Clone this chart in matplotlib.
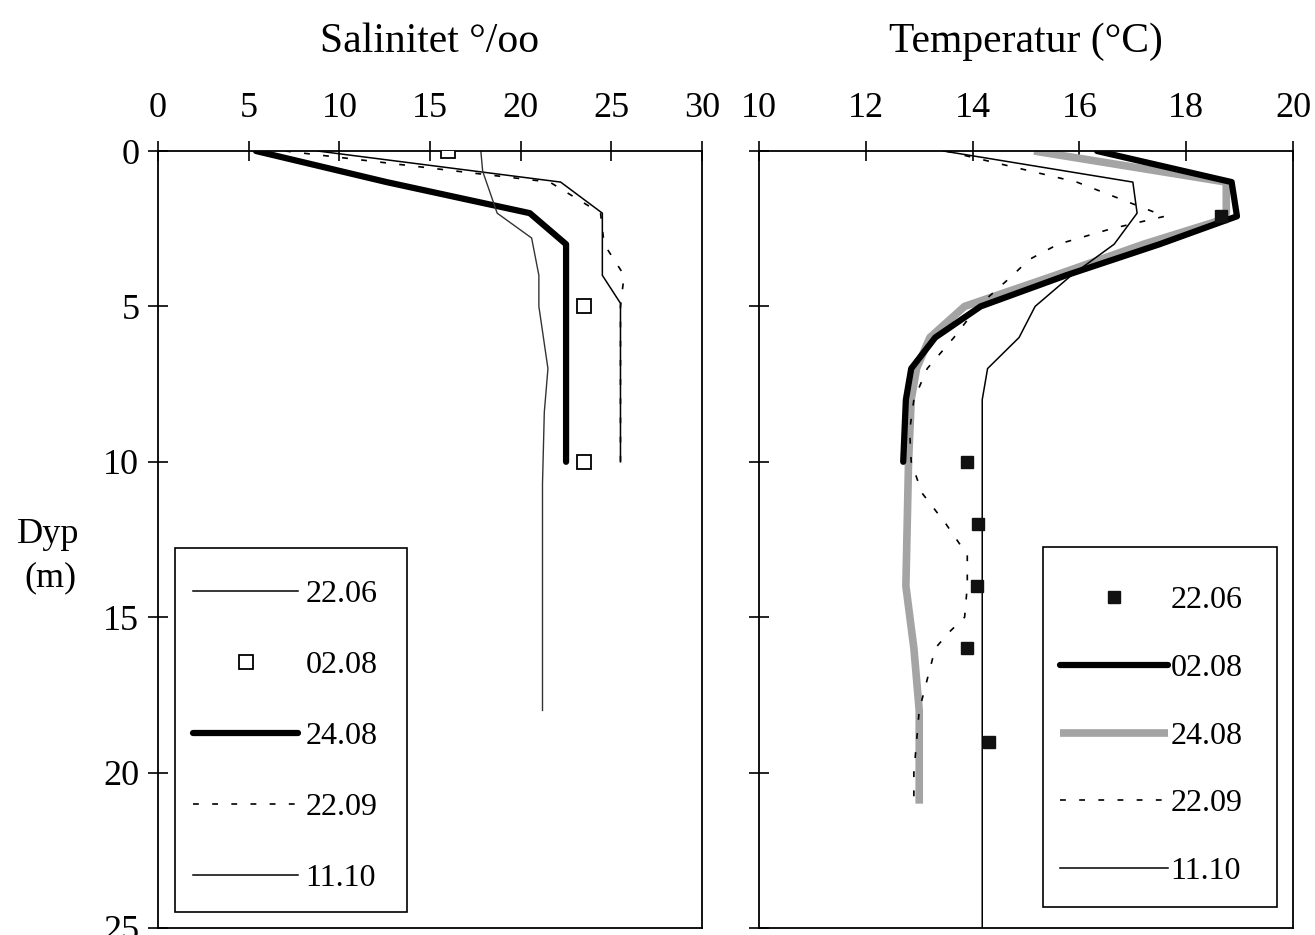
import matplotlib
matplotlib.use("Agg")
import matplotlib.pyplot as plt
from matplotlib.lines import Line2D
from matplotlib.patches import Rectangle

plt.rcParams['font.family'] = ['Liberation Serif', 'DejaVu Serif']

# ---------------- Salinity data (depth m, salinity o/oo) ----------------
sal_2206_d = [0, 1, 2, 4, 4.9, 10]
sal_2206_v = [8.8, 22.2, 24.5, 24.5, 25.5, 25.5]

sal_0208_d = [0, 5, 10]
sal_0208_v = [16.0, 23.5, 23.5]

sal_2408_d = [0, 1, 2, 3, 10]
sal_2408_v = [5.4, 12.6, 20.5, 22.5, 22.5]

sal_2209_d = [0, 1, 2, 3, 4, 5, 10]
sal_2209_v = [7.0, 21.6, 24.4, 24.6, 25.7, 25.5, 25.5]

sal_1110_d = [0, 0.65, 2, 2.8, 4, 5, 7, 8.4, 10.7, 18]
sal_1110_v = [17.8, 17.9, 18.7, 20.6, 21.0, 21.0, 21.5, 21.3, 21.2, 21.2]

# ---------------- Temperature data (depth m, deg C) ----------------
tmp_2206_d = [2.1, 10, 12, 14, 16, 19]
tmp_2206_v = [18.65, 13.9, 14.1, 14.08, 13.9, 14.3]

tmp_0208_d = [0, 1, 2.1, 3, 4, 5, 6, 7, 8, 10]
tmp_0208_v = [16.33, 18.85, 18.95, 17.5, 15.75, 14.15, 13.3, 12.85, 12.75, 12.7]

tmp_2408_d = [0, 1, 2, 2.25, 3, 4, 5, 6, 7, 8, 10, 14, 16, 18, 21]
tmp_2408_v = [15.15, 18.75, 18.75, 18.6, 17.2, 15.55, 13.85, 13.2, 12.95, 12.85, 12.8, 12.75, 12.9, 13.0, 13.0]

tmp_2209_d = [0, 1, 2.1, 2.5, 3, 3.5, 4, 5, 6, 7, 8, 9, 10, 11, 12, 13, 14, 15, 15.5, 16, 17, 18, 19, 20, 21]
tmp_2209_v = [13.5, 15.95, 17.6, 16.6, 15.6, 15.05, 14.75, 14.1, 13.65, 13.15, 12.9, 12.82, 12.85, 13.05, 13.5,
              13.9, 13.9, 13.85, 13.55, 13.3, 13.15, 13.0, 12.95, 12.9, 12.9]

tmp_1110_d = [0, 1, 2, 3, 4, 5, 6, 7, 8, 25]
tmp_1110_v = [13.45, 17.0, 17.08, 16.65, 15.85, 15.17, 14.87, 14.28, 14.18, 14.18]

labels = ["22.06", "02.08", "24.08", "22.09", "11.10"]
sal_xticks = [0, 5, 10, 15, 20, 25, 30]
tmp_xticks = [10, 12, 14, 16, 18, 20]
depth_ticks = [0, 5, 10, 15, 20, 25]

# ---------------- Figure ----------------
W, H = 1315, 935
fig = plt.figure(figsize=(W / 100, H / 100), dpi=100)
axL = fig.add_axes([0.1202, 0.0075, 0.4137, 0.8310])
axR = fig.add_axes([0.5772, 0.0075, 0.4061, 0.8310])

thin = dict(color='black', lw=1.1)
thick = dict(color='black', lw=4.5, solid_capstyle='round')
dash = dict(color='black', lw=1.2, linestyle=(0, (3.5, 8)))
gray = dict(color='#a4a4a4', lw=5.5, solid_capstyle='butt')

# Salinity
axL.plot(sal_2206_v, sal_2206_d, **thin)
axL.plot(sal_0208_v, sal_0208_d, linestyle='none', marker='s', ms=10, mfc='white', mec='black', mew=1.3, zorder=5)
axL.plot(sal_2408_v, sal_2408_d, **thick)
axL.plot(sal_2209_v, sal_2209_d, **dash)
axL.plot(sal_1110_v, sal_1110_d, color='#333333', lw=1.0)

# Temperature
axR.plot(tmp_2408_v, tmp_2408_d, **gray)
axR.plot(tmp_0208_v, tmp_0208_d, **thick)
axR.plot(tmp_2209_v, tmp_2209_d, **dash)
axR.plot(tmp_1110_v, tmp_1110_d, **thin)
axR.plot(tmp_2206_v, tmp_2206_d, linestyle='none', marker='s', ms=9, color='#111111', zorder=5)

for ax, xt, xl in ((axL, sal_xticks, (0, 30)), (axR, tmp_xticks, (10, 20))):
    ax.set_xlim(*xl)
    ax.set_ylim(25, 0)
    ax.set_xticks(xt)
    ax.set_yticks(depth_ticks)
    ax.xaxis.tick_top()
    ax.tick_params(axis='x', direction='inout', length=15, width=1.2, labelsize=26, pad=11)
    ax.tick_params(axis='y', direction='inout', length=15, width=1.2, labelsize=26, pad=6)
    for s in ax.spines.values():
        s.set_linewidth(1.3)
axR.tick_params(axis='y', labelleft=False)

# Legends (frameless, with frames drawn as rectangles)
hL = [Line2D([], [], **thin),
      Line2D([], [], linestyle='none', marker='s', ms=10, mfc='white', mec='black', mew=1.3),
      Line2D([], [], **thick),
      Line2D([], [], **dash),
      Line2D([], [], **thin)]
hR = [Line2D([], [], linestyle='none', marker='s', ms=9, color='#111111'),
      Line2D([], [], **thick),
      Line2D([], [], **gray),
      Line2D([], [], **dash),
      Line2D([], [], **thin)]
legkw = dict(fontsize=23, frameon=False, borderpad=0, numpoints=1, loc='upper left', borderaxespad=0)
fig.legend(hL, labels, bbox_to_anchor=(193 / W, 1 - 580 / H), handlelength=3.3,
           handletextpad=0.22, labelspacing=1.30, **legkw)
fig.legend(hR, labels, bbox_to_anchor=(1060 / W, 1 - 586 / H), handlelength=3.38,
           handletextpad=0.08, labelspacing=1.20, **legkw)

for (x0, y0, x1, y1) in ((175, 548, 407, 912), (1043, 547, 1277, 907)):
    fig.add_artist(Rectangle((x0 / W, 1 - y1 / H), (x1 - x0) / W, (y1 - y0) / H,
                             transform=fig.transFigure, fill=True, facecolor='white',
                             edgecolor='black', lw=1.2, zorder=3))

fig.text(0.327, 0.955, "Salinitet °/oo", ha='center', va='center', fontsize=30)
fig.text(0.780, 0.955, "Temperatur (°C)", ha='center', va='center', fontsize=30)
fig.text(0.037, 0.428, "Dyp", ha='center', va='center', fontsize=26)
fig.text(0.038, 0.382, "(m)", ha='center', va='center', fontsize=26)

fig.savefig("out.png", dpi=100)
